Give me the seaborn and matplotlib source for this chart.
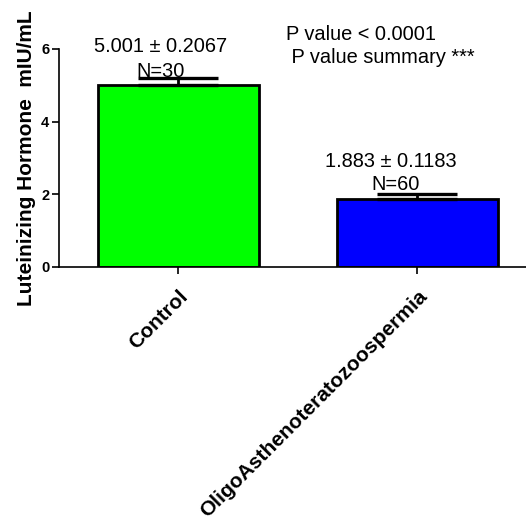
import matplotlib
matplotlib.use("Agg")
import matplotlib.pyplot as plt
import seaborn as sns
import pandas as pd

# Group summary statistics (mean ± SEM, sample size)
groups = ["Control", "OligoAsthenoteratozoospermia"]
means = [5.001, 1.883]
sems = [0.2067, 0.1183]
counts = [30, 60]
bar_colors = ["#00FF00", "#0000FF"]
y_ticks = [0, 2, 4, 6]
p_text = "P value < 0.0001"
p_summary = " P value summary ***"

sns.set_style("ticks")
plt.rcParams["font.family"] = ["Liberation Sans", "DejaVu Sans"]
plt.rcParams["text.color"] = "black"
plt.rcParams["axes.labelcolor"] = "black"
plt.rcParams["xtick.color"] = "black"
plt.rcParams["ytick.color"] = "black"

df = pd.DataFrame({"group": groups, "mean": means})

fig = plt.figure(figsize=(5.26, 5.20), dpi=100)
ax = fig.add_axes([59 / 526, (520 - 267) / 520, 467 / 526, 218 / 520])

sns.barplot(data=df, x="group", y="mean", hue="group", palette=bar_colors,
            order=groups, hue_order=groups, legend=False, errorbar=None,
            width=0.67, edgecolor="black", linewidth=2.0, saturation=1, ax=ax)

# upper SEM whiskers only
ax.errorbar(range(len(groups)), means, yerr=[[0] * len(sems), sems],
            fmt="none", ecolor="black", elinewidth=2.0, capsize=29,
            capthick=2.4, zorder=5)

ax.set_xlim(-0.5, 1.454)
ax.set_ylim(0, 6)
ax.set_yticks(y_ticks)
ax.set_yticklabels([str(t) for t in y_ticks], fontsize=10.5, fontweight="bold",
                   color="black")
ax.set_xticks(range(len(groups)))
ax.set_xticklabels(groups, fontsize=15, fontweight="bold", rotation=45,
                   ha="right", rotation_mode="anchor", color="black")
ax.tick_params(axis="both", length=5, width=1.2, direction="out", color="black")
ax.tick_params(axis="x", pad=9)
ax.tick_params(axis="y", pad=2)
ax.set_xlabel("")
ax.set_ylabel("Luteinizing Hormone  mIU/mL", fontsize=15, fontweight="bold",
              color="black")
ax.yaxis.set_label_coords(-23 / 467, 0.5)

for side in ["top", "right"]:
    ax.spines[side].set_visible(False)
for side in ["left", "bottom"]:
    ax.spines[side].set_linewidth(1.2)
    ax.spines[side].set_color("black")

# mean ± SEM and N annotations above each bar
label_dx = [-0.075, -0.113]
n_dx = [-0.075, -0.092]
label_y = [5.92, 2.75]
n_y = [5.23, 2.12]
for i in range(len(groups)):
    ax.text(i + label_dx[i], label_y[i], f"{means[i]:.3f} \u00b1 {sems[i]:.4f}",
            ha="center", va="baseline", fontsize=14.4, color="black", clip_on=False)
    ax.text(i + n_dx[i], n_y[i], f"N={counts[i]}",
            ha="center", va="baseline", fontsize=14.4, color="black", clip_on=False)

ax.text(0.448, 6.25, p_text, ha="left", va="baseline", fontsize=14.4,
        color="black", clip_on=False)
ax.text(0.448, 5.62, p_summary, ha="left", va="baseline", fontsize=14.4,
        color="black", clip_on=False)

fig.savefig("out.png", dpi=100)
